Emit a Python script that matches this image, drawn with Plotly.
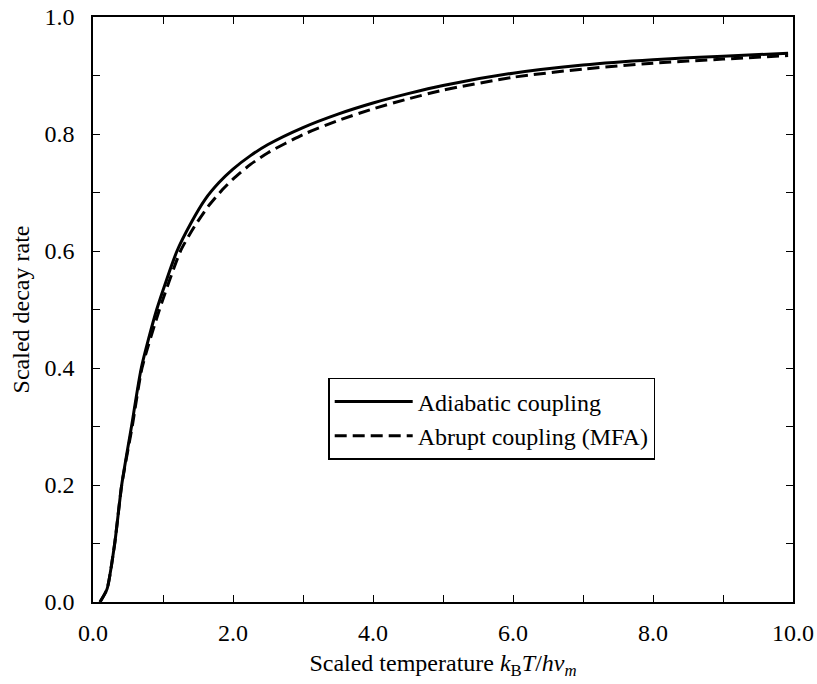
import plotly.graph_objects as go

# Adiabatic coupling (solid)
adiabatic_x = [0.1, 0.2, 0.31, 0.41, 0.55, 0.69, 0.91, 1.2, 1.4, 1.6, 1.8, 2.0, 2.25, 2.5, 3.0, 3.5, 4.0, 4.5, 5.0, 6.0, 7.0, 8.0, 9.0, 9.93]
adiabatic_y = [0.0, 0.022, 0.1, 0.2, 0.3, 0.4, 0.5, 0.6, 0.648, 0.688, 0.717, 0.740, 0.763, 0.782, 0.811, 0.834, 0.853, 0.869, 0.883, 0.904, 0.918, 0.927, 0.933, 0.938]

# Abrupt coupling (MFA) (dashed)
abrupt_x = [0.1, 0.2, 0.31, 0.41, 0.56, 0.7, 0.95, 1.25, 1.45, 1.65, 1.85, 2.0, 2.25, 2.5, 3.0, 3.5, 4.0, 4.5, 5.0, 6.0, 7.0, 8.0, 9.0, 9.93]
abrupt_y = [0.0, 0.022, 0.1, 0.2, 0.3, 0.4, 0.5, 0.6, 0.642, 0.677, 0.705, 0.723, 0.748, 0.768, 0.799, 0.823, 0.843, 0.860, 0.875, 0.897, 0.911, 0.921, 0.928, 0.934]

x_ticks = [0, 2, 4, 6, 8, 10]
y_ticks = [0.0, 0.2, 0.4, 0.6, 0.8, 1.0]

FONT = "Liberation Serif"
FS = 24

fig = go.Figure()
fig.add_trace(go.Scatter(
    x=adiabatic_x, y=adiabatic_y, mode="lines", name="Adiabatic coupling",
    line=dict(color="black", width=3, shape="spline", smoothing=0.6),
))
fig.add_trace(go.Scatter(
    x=abrupt_x, y=abrupt_y, mode="lines", name="Abrupt coupling (MFA)",
    line=dict(color="black", width=3, dash="12px,6px", shape="spline", smoothing=0.6),
))

axis_common = dict(
    showgrid=False, zeroline=False, showline=True, linecolor="black", linewidth=1.5,
    mirror="ticks", ticks="inside", ticklen=7, tickwidth=1, tickcolor="black",
    tickfont=dict(family=FONT, size=FS, color="black"), tickformat=".1f",
    automargin=False,
)

fig.update_xaxes(
    range=[0, 10], tickvals=x_ticks, ticklabelstandoff=8,
    minor=dict(dtick=1, ticks="inside", ticklen=7, tickcolor="black"),
    title=dict(text="Scaled temperature <i>k</i><sub>B</sub><i>T</i>/<i>hν</i><sub><i>m</i></sub>",
               font=dict(family=FONT, size=FS, color="black"), standoff=10),
    **axis_common,
)
fig.update_yaxes(
    range=[0, 1.0], tickvals=y_ticks, ticklabelstandoff=12,
    minor=dict(dtick=0.1, ticks="inside", ticklen=7, tickcolor="black"),
    title=dict(text="Scaled decay rate", font=dict(family=FONT, size=FS, color="black"), standoff=8),
    **axis_common,
)

fig.update_layout(
    width=817, height=684,
    margin=dict(l=93, r=24, t=17, b=82),
    plot_bgcolor="white", paper_bgcolor="white",
    font=dict(family=FONT, size=FS, color="black"),
    legend=dict(
        x=0.336, y=0.383, xanchor="left", yanchor="top",
        bordercolor="black", borderwidth=1.5, bgcolor="white",
        font=dict(family=FONT, size=FS, color="black"),
        tracegroupgap=0, itemwidth=78,
    ),
    showlegend=True,
)

fig.write_html("out.html", config={"displayModeBar": False},
               post_script="document.body.style.margin='0px';")
